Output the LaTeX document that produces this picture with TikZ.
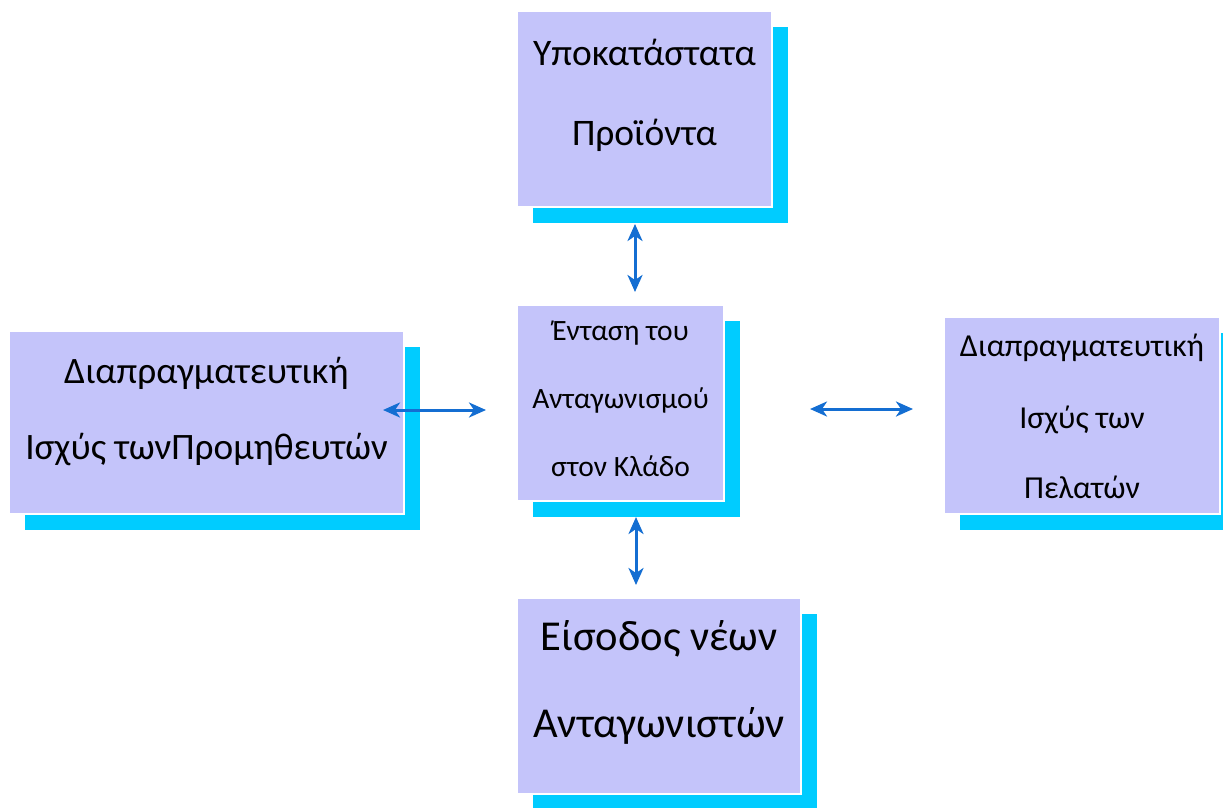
\documentclass[tikz,border=0pt]{standalone}
\usepackage{fontspec}
\setmainfont{Carlito}
\usetikzlibrary{arrows.meta,shadows}
\definecolor{boxfill}{RGB}{196,196,250}
\definecolor{shadowc}{RGB}{0,204,255}
\definecolor{arrowc}{RGB}{20,110,210}
\tikzset{
  panel/.style={rectangle, fill=boxfill, draw=white, line width=1.5pt, inner sep=0pt,
    drop shadow={shadow xshift=16pt, shadow yshift=-16pt, fill=shadowc, opacity=1}},
  lbl/.style={anchor=base, inner sep=0pt, text=black},
  biarrow/.style={draw=arrowc, line width=3pt,
    arrows={Stealth[length=17pt,width=15pt,inset=5pt]-Stealth[length=17pt,width=15pt,inset=5pt]}}
}
\begin{document}
\begin{tikzpicture}[x=1pt,y=-1pt]
\useasboundingbox (0,0) rectangle (1223,807);
\clip (0,0) rectangle (1223,807);
% boxes
\node[panel, minimum width=255pt, minimum height=196pt] (top) at (644.5,109) {};
\node[panel, minimum width=207pt, minimum height=196pt] (mid) at (620.5,403) {};
\node[panel, minimum width=395pt, minimum height=183pt] (left) at (206.5,422.5) {};
\node[panel, minimum width=276pt, minimum height=197pt] (right) at (1082,415.5) {};
\node[panel, minimum width=284pt, minimum height=196pt] (bot) at (659,696) {};
% texts
\node[lbl, font=\fontsize{37.5}{45}\selectfont] (top1) at (644.5,65) {Υποκατάστατα};
\node[lbl, font=\fontsize{37.5}{45}\selectfont] (top2) at (644.5,145) {Προϊόντα};
\node[lbl, font=\fontsize{29.5}{35}\selectfont] (mid1) at (620.5,340) {Ένταση του};
\node[lbl, font=\fontsize{29.5}{35}\selectfont] (mid2) at (620.5,408) {Ανταγωνισμού};
\node[lbl, font=\fontsize{29.5}{35}\selectfont] (mid3) at (620.5,476) {στον Κλάδο};
\node[lbl, font=\fontsize{37.3}{45}\selectfont] (left1) at (206.5,383) {Διαπραγματευτική};
\node[lbl, font=\fontsize{37.3}{45}\selectfont] (left2) at (206.5,459) {Ισχύς τωνΠρομηθευτών};
\node[lbl, font=\fontsize{32}{38}\selectfont] (right1) at (1082,356) {Διαπραγματευτική};
\node[lbl, font=\fontsize{32}{38}\selectfont] (right2) at (1082,428) {Ισχύς των};
\node[lbl, font=\fontsize{32}{38}\selectfont] (right3) at (1082,498) {Πελατών};
\node[lbl, font=\fontsize{42.6}{51}\selectfont] (bot1) at (659,650) {Είσοδος νέων};
\node[lbl, font=\fontsize{42.6}{51}\selectfont] (bot2) at (659,737) {Ανταγωνιστών};
% connector ends
\coordinate (tA) at (635,224);
\coordinate (tB) at (635,292);
\coordinate (bA) at (636,517);
\coordinate (bB) at (636,585);
\coordinate (lA) at (383,410);
\coordinate (lB) at (486,410);
\coordinate (rA) at (810,409);
\coordinate (rB) at (913,409);
\draw[biarrow] (tA) -- (tB);
\draw[biarrow] (bA) -- (bB);
\draw[biarrow] (lA) -- (lB);
\draw[biarrow] (rA) -- (rB);
\end{tikzpicture}
\end{document}
